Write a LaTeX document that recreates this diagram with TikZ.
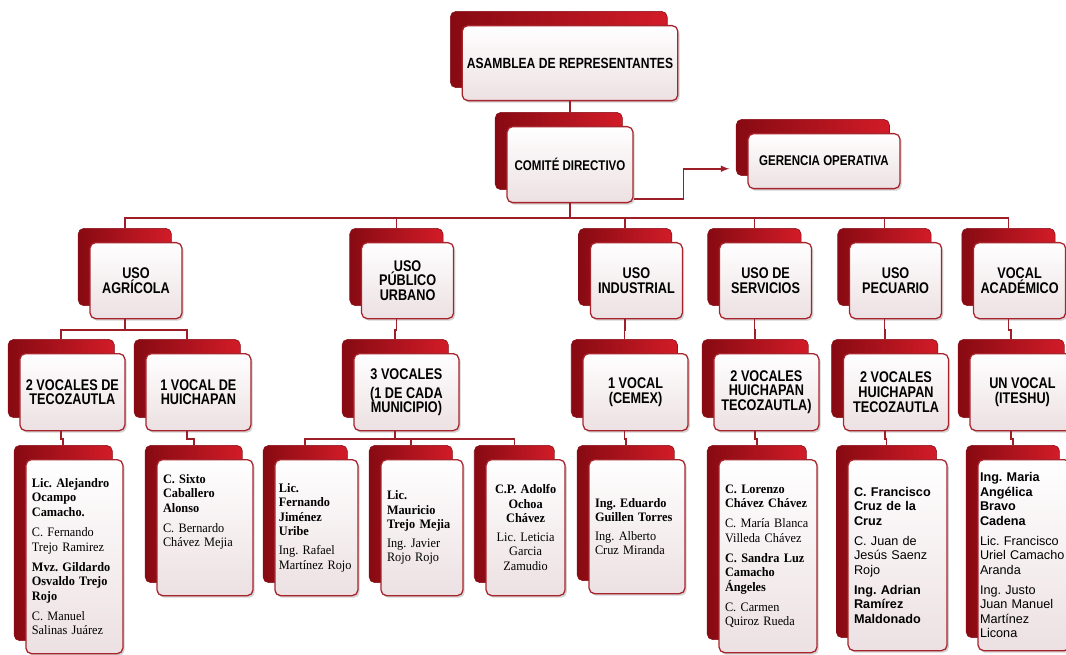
\documentclass[tikz,border=0pt]{standalone}
\usepackage{fontspec}
\setmainfont[FakeStretch=0.95]{Liberation Serif}
\newfontfamily\fcab[FakeStretch=0.82]{Liberation Sans}
\newfontfamily\fsan{Liberation Sans}
\usetikzlibrary{shadows,fit,backgrounds}
\definecolor{rojo}{RGB}{210,28,40}
\definecolor{rojoosc}{RGB}{135,10,18}
\definecolor{borde}{RGB}{168,36,44}
\definecolor{crema}{RGB}{236,224,226}
\definecolor{vino}{RGB}{158,30,40}
\frenchspacing
\hyphenpenalty=10000
\begin{document}
\begin{tikzpicture}[
  caja/.style={rectangle, rounded corners=4pt, draw=borde, line width=0.9pt,
    top color=white, bottom color=crema, anchor=north,
    drop shadow={shadow xshift=1.2pt, shadow yshift=-1.5pt, opacity=0.35}},
  cab/.style={caja, font=\fcab\bfseries\fontsize{11}{10.5}\selectfont, align=center},
  nom/.style={caja, font=\fontsize{9.2}{10.3}\selectfont, align=left, inner xsep=0.15cm},
  tras/.style={rectangle, rounded corners=4pt, draw=rojoosc, left color=rojoosc,
    right color=rojo, inner sep=0pt},
  con/.style={vino, line width=1.1pt}]
\useasboundingbox (0,0) rectangle (26.65,-16.375);

% asamblea, comite, gerencia
\node[cab, minimum width=5.35cm, minimum height=1.875cm,
  font=\fcab\bfseries\fontsize{10.5}{12}\selectfont] (asm) at (14.25,-0.625) {ASAMBLEA DE REPRESENTANTES};
\node[cab, minimum width=3.15cm, minimum height=1.9cm,
  font=\fcab\bfseries\fontsize{10}{12}\selectfont] (com) at (14.25,-3.15) {COMITÉ DIRECTIVO};
\node[cab, minimum width=3.8cm, minimum height=1.375cm,
  font=\fcab\bfseries\fontsize{10}{12}\selectfont] (ger) at (20.6,-3.325) {GERENCIA OPERATIVA};

% usos
\foreach \n/\x/\txt in {agr/3.4/{USO\\AGRÍCOLA}, pub/10.19/{USO\\PÚBLICO\\URBANO},
  ind/15.91/{USO\\INDUSTRIAL}, ser/19.14/{USO DE\\SERVICIOS},
  pec/22.39/{USO\\PECUARIO}, aca/25.49/{VOCAL\\ACADÉMICO}}
  \node[cab, minimum width=2.3cm, minimum height=1.9cm] (\n) at (\x,-6.05) {\txt};

% vocales
\foreach \n/\x/\txt in {tec/1.81/{2 VOCALES DE\\TECOZAUTLA}, hui/4.96/{1 VOCAL DE\\HUICHAPAN},
  voc/10.16/{3 VOCALES\\[3pt](1 DE CADA\\MUNICIPIO)}, cem/15.89/{1 VOCAL\\(CEMEX)},
  svo/19.16/{2 VOCALES\\HUICHAPAN\\TECOZAUTLA)}, pvo/22.4/{2 VOCALES\\HUICHAPAN\\TECOZAUTLA},
  uvo/25.56/{UN VOCAL\\(ITESHU)}}
  \node[cab, minimum width=2.625cm, minimum height=1.925cm] (\n) at (\x,-8.825) {\txt};

% nombres
\node[nom, text width=2.125cm, minimum height=4.85cm] (ale) at (1.86,-11.475)
  {{\bfseries Lic. Alejandro\\Ocampo\\Camacho.}\\[4pt]C. Fernando\\Trejo Ramirez\\[4pt]{\bfseries Mvz. Gildardo\\Osvaldo Trejo\\Rojo}\\[4pt]C. Manuel\\Salinas Juárez};
\node[nom, text width=2.1cm, minimum height=3.4cm] (six) at (5.125,-11.475)
  {{\bfseries C. Sixto\\Caballero\\Alonso}\\[4pt]C. Bernardo\\Chávez Mejia\\[14pt]\mbox{}};
\node[nom, text width=1.875cm, inner xsep=0.1cm, minimum height=3.4cm] (fer) at (7.91,-11.475)
  {{\bfseries Lic.\\Fernando\\Jiménez\\Uribe}\\[3pt]Ing. Rafael\\Martínez Rojo};
\node[nom, text width=1.75cm, minimum height=3.4cm] (mau) at (10.55,-11.475)
  {{\bfseries Lic.\\Mauricio\\Trejo Mejia}\\[3pt]Ing. Javier\\Rojo Rojo};
\node[nom, text width=1.675cm, minimum height=3.4cm, align=center] (ado) at (13.14,-11.475)
  {{\bfseries C.P. Adolfo\\Ochoa\\Chávez}\\[3pt]Lic. Leticia\\Garcia\\Zamudio};
\node[nom, text width=2.1cm, minimum height=3.35cm] (edu) at (15.925,-11.475)
  {{\bfseries Ing. Eduardo\\Guillen Torres}\\[3pt]Ing. Alberto\\Cruz Miranda};
\node[nom, text width=2.15cm, minimum height=4.825cm] (lor) at (19.2,-11.475)
  {{\bfseries C. Lorenzo\\Chávez Chávez}\\[4pt]C. María Blanca\\Villeda Chávez\\[4pt]{\bfseries C. Sandra Luz\\Camacho\\Ángeles}\\[4pt]C. Carmen\\Quiroz Rueda};
\node[nom, text width=2.175cm, minimum height=4.775cm,
  font=\fsan\fontsize{9}{10.3}\selectfont] (fra) at (22.44,-11.475)
  {{\bfseries C. Francisco\\Cruz de la\\Cruz}\\[4pt]C. Juan de\\Jesús Saenz\\Rojo\\[4pt]{\bfseries Ing. Adrian\\Ramírez\\Maldonado}};
\node[nom, text width=2.2cm, inner xsep=0.05cm, minimum height=4.775cm,
  font=\fsan\fontsize{9}{10.3}\selectfont] (mar) at (25.6,-11.475)
  {{\bfseries Ing. Maria\\Angélica\\Bravo\\Cadena}\\[4pt]Lic. Francisco\\Uriel Camacho\\Aranda\\[4pt]Ing. Justo\\Juan Manuel\\Martínez\\Licona};

% tarjetas rojas detras
\begin{pgfonlayer}{background}
\foreach \n in {asm,com,ger,agr,pub,ind,ser,pec,aca,tec,hui,voc,cem,svo,pvo,uvo,
  ale,six,fer,mau,ado,edu,lor,fra,mar}
  \node[tras, fit=(\n), xshift=-0.28cm, yshift=0.34cm] (\n-b) {};
\end{pgfonlayer}

% lineas
\draw[con] (asm.south) -- (asm.south |- com-b.north);
\foreach \n in {agr,pub,ind,ser,pec,aca}
  \draw[con] (com.south) -- ++(0,-0.375) -| (\n-b.north);
\draw[con,-latex] ([yshift=0.1cm]com.south east) -- ++(1.25,0) |- ([xshift=-0.45cm,yshift=-0.19cm]ger.west);
\foreach \p/\c in {agr/tec,agr/hui,pub/voc,ind/cem,ser/svo,pec/pvo,aca/uvo}
  \draw[con] (\p-b |- \p.south) -- ++(0,-0.27) -| (\c-b.north);
\foreach \p/\c in {tec/ale,hui/six,voc/fer,voc/mau,voc/ado,cem/edu,svo/lor,pvo/fra,uvo/mar}
  \draw[con] (\p-b |- \p.south) -- ++(0,-0.2) -| (\c-b.north);
\end{tikzpicture}
\end{document}
